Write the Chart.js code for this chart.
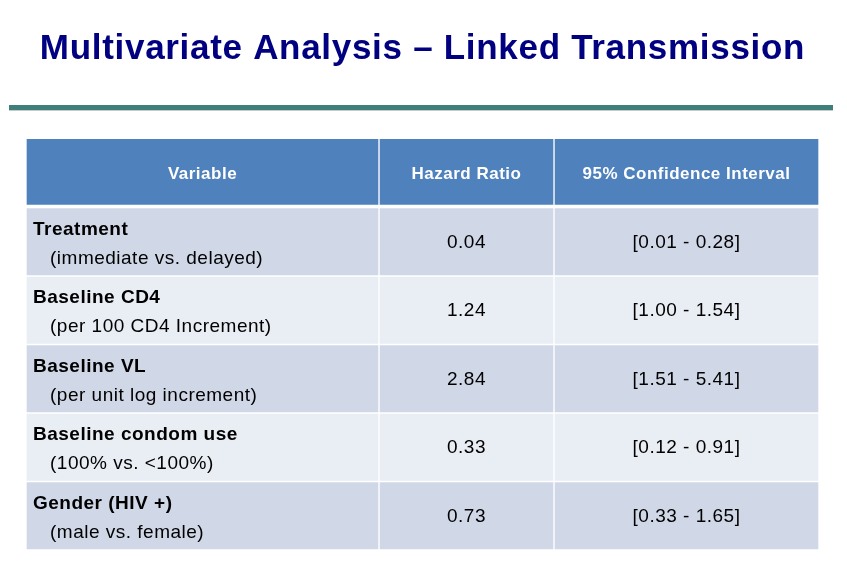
<!DOCTYPE html>
<html>
<head>
<meta charset="utf-8">
<script src="https://cdn.jsdelivr.net/npm/chart.js@4.4.0/dist/chart.umd.min.js"></script>
<style>
    body { margin: 0; background: #ffffff; }
    #wrap { width: 847px; height: 582px; }
</style>
</head>
<body>
<div id="wrap"><canvas id="hazardTable" width="847" height="582"></canvas></div>
<script>
// Table content
const columnHeaders = ["Variable", "Hazard Ratio", "95% Confidence Interval"];
const variables = ["Treatment", "Baseline CD4", "Baseline VL", "Baseline condom use", "Gender (HIV +)"];
const variableNotes = [
    "(immediate vs. delayed)",
    "(per 100 CD4 Increment)",
    "(per unit log increment)",
    "(100% vs. <100%)",
    "(male vs. female)",
];
const hazardRatios = [0.04, 1.24, 2.84, 0.33, 0.73];
const ciLower = [0.01, 1.0, 1.51, 0.12, 0.33];
const ciUpper = [0.28, 1.54, 5.41, 0.91, 1.65];

// Layout: column edges on the x scale (table units)
const columnEdges = [0, 353, 528, 793];
const headerColor = "#4F81BD";
const rowColors = ["#D0D8E8", "#E9EDF4"];

Chart.defaults.font.family = "'Liberation Sans', Arial, sans-serif";

const rowLabels = ["header", ...variables];

const cellColor = (ctx) => (ctx.dataIndex === 0 ? headerColor : rowColors[(ctx.dataIndex - 1) % 2]);

const datasets = columnHeaders.map((name, col) => ({
    label: name,
    data: rowLabels.map(() => [columnEdges[col], columnEdges[col + 1]]),
    backgroundColor: cellColor,
    borderColor: "#ffffff",
    borderWidth: (ctx) => (ctx.dataIndex === 0 ? { top: 0, left: 1, right: 1, bottom: 3 } : 1),
    borderSkipped: false,
    barPercentage: 1,
    categoryPercentage: 1,
    grouped: false,
}));

// Decorative rule under the title, plus slightly spaced title lettering
const titleRule = {
    id: "titleRule",
    beforeDraw(chart) {
        const ctx = chart.ctx;
        ctx.save();
        ctx.fillStyle = "#3F7F79";
        ctx.fillRect(9, 105, 824, 5);
        ctx.fillStyle = "#C8C8C8";
        ctx.fillRect(9, 110, 824, 1);
        ctx.restore();
        ctx.letterSpacing = "0.7px";
    },
    afterDraw(chart) {
        chart.ctx.letterSpacing = "0px";
    },
};

// Cell texts placed with the chart scales
const cellText = {
    id: "cellText",
    afterDatasetsDraw(chart) {
        const { ctx, scales: { x, y } } = chart;
        const colCenter = (c) => (x.getPixelForValue(columnEdges[c]) + x.getPixelForValue(columnEdges[c + 1])) / 2;
        ctx.save();
        ctx.letterSpacing = "0.5px";

        // header
        ctx.fillStyle = "#ffffff";
        ctx.font = "bold 17px 'Liberation Sans', Arial, sans-serif";
        ctx.textAlign = "center";
        ctx.textBaseline = "middle";
        const hy = y.getPixelForValue(0) + 1;
        columnHeaders.forEach((h, c) => ctx.fillText(h, colCenter(c), hy));

        // body rows
        ctx.fillStyle = "#000000";
        variables.forEach((v, i) => {
            const cy = y.getPixelForValue(i + 1);
            const left = x.getPixelForValue(columnEdges[0]);

            ctx.textAlign = "left";
            ctx.textBaseline = "alphabetic";
            ctx.font = "bold 19px 'Liberation Sans', Arial, sans-serif";
            ctx.fillText(v, left + 7, cy - 7);
            ctx.font = "19px 'Liberation Sans', Arial, sans-serif";
            ctx.fillText(variableNotes[i], left + 24, cy + 22);

            ctx.textAlign = "center";
            ctx.textBaseline = "middle";
            ctx.fillText(hazardRatios[i].toFixed(2), colCenter(1), cy + 1);
            ctx.fillText(`[${ciLower[i].toFixed(2)} - ${ciUpper[i].toFixed(2)}]`, colCenter(2), cy + 1);
        });
        ctx.restore();
    },
};

new Chart(document.getElementById("hazardTable"), {
    type: "bar",
    data: { labels: rowLabels, datasets },
    options: {
        indexAxis: "y",
        responsive: false,
        animation: false,
        layout: { padding: { left: 26, right: 28, top: 0, bottom: 32 } },
        scales: {
            x: { type: "linear", min: columnEdges[0], max: columnEdges[3], display: false },
            y: { type: "category", display: false },
        },
        plugins: {
            legend: { display: false },
            tooltip: { enabled: false },
            title: {
                display: true,
                text: "Multivariate Analysis \u2013 Linked Transmission",
                color: "#000080",
                font: { size: 35, weight: "bold" },
                padding: { top: 28, bottom: 69 },
            },
        },
    },
    plugins: [titleRule, cellText],
});
</script>
</body>
</html>
